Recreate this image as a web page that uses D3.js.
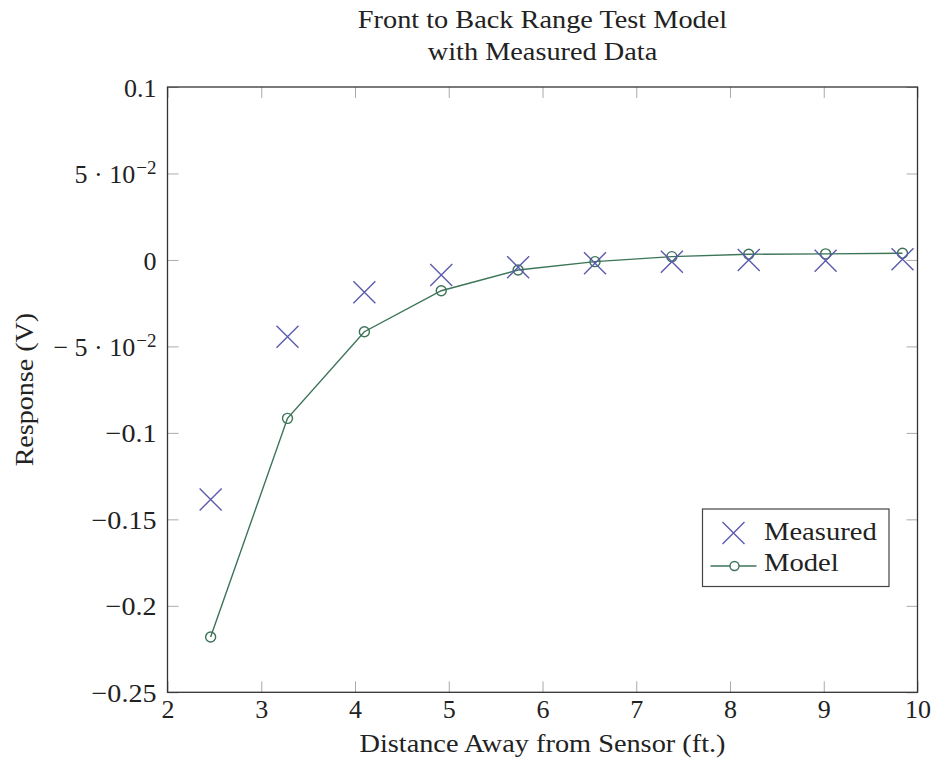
<!DOCTYPE html>
<html>
<head>
<meta charset="utf-8">
<script src="https://cdn.jsdelivr.net/npm/d3@7"></script>
<style>
  html, body { margin: 0; padding: 0; background: #fff; }
  svg text { font-family: "Liberation Serif", "DejaVu Serif", serif; fill: #222; }
</style>
</head>
<body>
<svg id="chart" width="935" height="768"></svg>
<script>
// Distances from the sensor (ft.)
const distances = [2.46, 3.28, 4.10, 4.92, 5.74, 6.56, 7.38, 8.20, 9.02, 9.84];
// Measured response (V)
const measured = [-0.1385, -0.0444, -0.0187, -0.0087, -0.0042, -0.0019, -0.0010, 0.0000, -0.0004, 0.0004];
// Model response (V)
const model = [-0.2180, -0.0916, -0.0415, -0.0178, -0.0058, -0.0010, 0.0019, 0.0033, 0.0035, 0.0039];

const xTicks = [2, 3, 4, 5, 6, 7, 8, 9, 10];
const yTicks = [0.1, 0.05, 0, -0.05, -0.1, -0.15, -0.2, -0.25];
const titleLines = ["Front to Back Range Test Model", "with Measured Data"];
const xLabel = "Distance Away from Sensor (ft.)";
const yLabel = "Response (V)";
const seriesNames = ["Measured", "Model"];

const crossColor = "#5a5aae";
const lineColor = "#3c7458";
const serif = "'Liberation Serif', 'DejaVu Serif', serif";

const svg = d3.select("#chart");
const plot = { left: 167.5, right: 917.5, top: 87, bottom: 692.3 };

const x = d3.scaleLinear().domain([2, 10]).range([plot.left, plot.right]);
const y = d3.scaleLinear().domain([-0.25, 0.1]).range([plot.bottom, plot.top]);

const tickLen = 11;
const tickColor = "#aaa";

// Stretch glyphs horizontally so the serif face gets a roomier, book-like set width
function widen(sel, k) {
  sel.each(function() {
    const w = this.getComputedTextLength();
    d3.select(this).attr("textLength", w * k).attr("lengthAdjust", "spacingAndGlyphs");
  });
}

// Tick label text, with scientific notation for ±0.05
function yTickParts(v) {
  if (Math.abs(Math.abs(v) - 0.05) < 1e-9) {
    return { base: (v < 0 ? "\u2212 " : "") + "5 \u00B7 10", sup: "\u22122" };
  }
  if (v === 0) return { base: "0", sup: null };
  return { base: (v < 0 ? "\u2212" : "") + String(Math.abs(v)), sup: null };
}

// Left axis (ticks pointing into the plot)
const gy = svg.append("g").attr("transform", `translate(${plot.left},0)`)
  .call(d3.axisLeft(y).tickValues(yTicks).tickSize(-tickLen).tickPadding(10).tickFormat(""))
  .attr("font-family", serif);
gy.select(".domain").remove();
gy.selectAll(".tick line").attr("stroke", tickColor);
gy.selectAll(".tick").each(function(d) {
  const p = yTickParts(d);
  const t = d3.select(this).select("text")
    .attr("x", -11).attr("dy", "0.35em")
    .attr("text-anchor", "end").attr("font-size", 26).attr("fill", "#222");
  if (p.sup) {
    t.append("tspan").text(p.base);
    t.append("tspan").attr("dy", "-0.5em").attr("dx", 1).attr("font-size", 19).text(p.sup);
  } else {
    t.text(p.base);
    if (d < 0) widen(t, 1.08);
  }
});

// Right axis ticks (inward, no labels)
const gyr = svg.append("g").attr("transform", `translate(${plot.right},0)`)
  .call(d3.axisRight(y).tickValues(yTicks).tickSize(-tickLen).tickFormat(""));
gyr.select(".domain").remove();
gyr.selectAll(".tick line").attr("stroke", tickColor);

// Bottom axis
const gx = svg.append("g").attr("transform", `translate(0,${plot.bottom})`)
  .call(d3.axisBottom(x).tickValues(xTicks).tickSize(-tickLen).tickPadding(8).tickFormat(d3.format("d")))
  .attr("font-family", serif);
gx.select(".domain").remove();
gx.selectAll(".tick line").attr("stroke", tickColor);
gx.selectAll(".tick text").attr("font-size", 26).attr("dy", "0.7em").attr("fill", "#222");

// Top axis ticks (inward, no labels)
const gxt = svg.append("g").attr("transform", `translate(0,${plot.top})`)
  .call(d3.axisTop(x).tickValues(xTicks).tickSize(-tickLen).tickFormat(""));
gxt.select(".domain").remove();
gxt.selectAll(".tick line").attr("stroke", tickColor);

// Plot frame
svg.append("rect")
  .attr("x", plot.left).attr("y", plot.top)
  .attr("width", plot.right - plot.left).attr("height", plot.bottom - plot.top)
  .attr("fill", "none").attr("stroke", "#333").attr("stroke-width", 1.3);

const rows = distances.map((d, i) => ({ x: d, m: measured[i], f: model[i] }));

// Model curve with circle markers
svg.append("path").datum(rows)
  .attr("fill", "none").attr("stroke", lineColor).attr("stroke-width", 1.4)
  .attr("d", d3.line().x(d => x(d.x)).y(d => y(d.f)));
svg.append("g").selectAll("circle").data(rows).join("circle")
  .attr("cx", d => x(d.x)).attr("cy", d => y(d.f)).attr("r", 5)
  .attr("fill", "none").attr("stroke", lineColor).attr("stroke-width", 1.4);

// Measured crosses
const cs = 11;
const crossPath = `M${-cs},${-cs}L${cs},${cs}M${-cs},${cs}L${cs},${-cs}`;
svg.append("g").selectAll("path").data(rows).join("path")
  .attr("transform", d => `translate(${x(d.x)},${y(d.m)})`)
  .attr("d", crossPath)
  .attr("fill", "none").attr("stroke", crossColor).attr("stroke-width", 1.4);

// Legend
const lg = svg.append("g").attr("transform", "translate(702.5,509)");
lg.append("rect").attr("width", 186.5).attr("height", 77.5)
  .attr("fill", "#fff").attr("stroke", "#444").attr("stroke-width", 1.2);
lg.append("path").attr("transform", "translate(31,24)")
  .attr("d", `M-11,-11L11,11M-11,11L11,-11`)
  .attr("fill", "none").attr("stroke", crossColor).attr("stroke-width", 1.4);
lg.append("line").attr("x1", 8).attr("x2", 54).attr("y1", 57).attr("y2", 57)
  .attr("stroke", lineColor).attr("stroke-width", 1.4);
lg.append("circle").attr("cx", 32).attr("cy", 57).attr("r", 4.5)
  .attr("fill", "#fff").attr("stroke", lineColor).attr("stroke-width", 1.4);
const lgText = lg.selectAll("text.lbl").data(seriesNames).join("text").attr("class", "lbl")
  .attr("x", 61.5).attr("y", (d, i) => 30.5 + i * 31.5)
  .attr("font-size", 26).text(d => d);
widen(lgText, 1.1);

// Title
const title = svg.append("g").selectAll("text").data(titleLines).join("text")
  .attr("x", (plot.left + plot.right) / 2).attr("y", (d, i) => 28 + i * 31.5)
  .attr("text-anchor", "middle").attr("font-size", 25.5).text(d => d);
widen(title, 1.11);

// Axis labels
const xl = svg.append("text").attr("x", (plot.left + plot.right) / 2).attr("y", 752)
  .attr("text-anchor", "middle").attr("font-size", 25.5).text(xLabel);
widen(xl, 1.11);
const yl = svg.append("text").attr("transform", `translate(33,${(plot.top + plot.bottom) / 2}) rotate(-90)`)
  .attr("text-anchor", "middle").attr("font-size", 25.5).text(yLabel);
widen(yl, 1.1);
</script>
</body>
</html>
